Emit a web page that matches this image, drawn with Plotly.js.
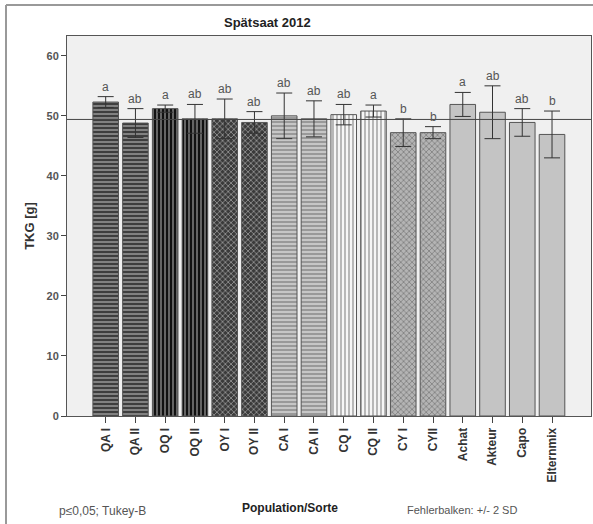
<!DOCTYPE html>
<html>
<head>
<meta charset="utf-8">
<script src="https://cdn.plot.ly/plotly-3.0.1.min.js"></script>
<style>html,body{margin:0;padding:0;background:#fff;}#chart{width:593px;height:524px;}</style>
</head>
<body>
<div id="chart"></div>
<script>
const categories = ["QA I","QA II","OQ I","OQ II","OY I","OY II","CA I","CA II","CQ I","CQ II","CY I","CYII","Achat","Akteur","Capo","Elternmix"];
const means = [52.3, 48.8, 51.2, 49.5, 49.5, 48.9, 50.0, 49.5, 50.2, 50.8, 47.2, 47.2, 51.9, 50.6, 48.9, 46.9];
const errors2SD = [0.9, 2.4, 0.6, 2.4, 3.3, 1.8, 3.8, 3.0, 1.7, 1.0, 2.3, 1.0, 2.0, 4.4, 2.3, 3.9];
const letters = ["a","ab","a","ab","ab","ab","ab","ab","ab","a","b","b","a","ab","ab","b"];
const referenceLine = 49.4;
const yTicks = [0, 10, 20, 30, 40, 50, 60];

const bgColors = ["#3e3e3e","#3e3e3e","#111111","#111111","#3a3a3a","#3a3a3a","#c6c6c6","#c6c6c6","#f6f6f6","#f6f6f6","#b4b4b4","#b4b4b4","#c4c4c4","#c4c4c4","#c4c4c4","#c4c4c4"];
const patShapes = ["-","-","|","|","x","x","-","-","|","|","x","x","","","",""];
const patFg = ["#8a8a8a","#8a8a8a","#4a4a4a","#4a4a4a","#6e6e6e","#6e6e6e","#f2f2f2","#f2f2f2","#c8c8c8","#c8c8c8","#8c8c8c","#8c8c8c","#c4c4c4","#c4c4c4","#c4c4c4","#c4c4c4"];

const idx = categories.map((c, i) => i);
const FONT = 'Liberation Sans, Arial, sans-serif';

const trace = {
  type: 'bar',
  x: idx,
  y: means,
  width: 0.86,
  marker: {
    color: bgColors,
    line: {color: '#555555', width: 1},
    pattern: {shape: patShapes, fgcolor: patFg, bgcolor: bgColors, size: 4, solidity: 0.35, fillmode: 'overlay'}
  },
  error_y: {type: 'data', array: errors2SD, visible: true, color: '#333333', thickness: 1, width: 8},
  hoverinfo: 'none'
};

const annotations = idx.map(i => ({
  x: i, y: means[i] + errors2SD[i], xref: 'x', yref: 'y',
  text: letters[i], showarrow: false, yanchor: 'bottom', yshift: 1,
  font: {family: FONT, size: 12, color: '#555555'}
}));

annotations.push(
  {xref: 'paper', yref: 'paper', x: (267 - 67) / 524, y: (416 - 22) / 380, xanchor: 'center', yanchor: 'middle', showarrow: false,
   text: 'Spätsaat 2012', font: {family: FONT, size: 13, color: '#222222', weight: 'bold'}},
  {xref: 'paper', yref: 'paper', x: (290 - 67) / 524, y: -(508 - 416) / 380, xanchor: 'center', yanchor: 'middle', showarrow: false,
   text: 'Population/Sorte', font: {family: FONT, size: 12, color: '#222222', weight: 'bold'}},
  {xref: 'paper', yref: 'paper', x: (57 - 67) / 524, y: -(511 - 416) / 380, xanchor: 'left', yanchor: 'middle', showarrow: false,
   text: 'p≤0,05; Tukey-B', font: {family: FONT, size: 12, color: '#555555'}},
  {xref: 'paper', yref: 'paper', x: (405 - 67) / 524, y: -(510 - 416) / 380, xanchor: 'left', yanchor: 'middle', showarrow: false,
   text: 'Fehlerbalken: +/- 2 SD', font: {family: FONT, size: 11, color: '#555555'}}
);

const layout = {
  width: 593, height: 524,
  margin: {l: 67, r: 2, t: 36, b: 108, pad: 0},
  paper_bgcolor: '#ffffff',
  plot_bgcolor: '#f0f0f0',
  showlegend: false,
  font: {family: FONT, color: '#444444'},
  xaxis: {
    range: [-1.3, 16.31],
    tickmode: 'array', tickvals: idx, ticktext: categories,
    tickangle: -90, ticks: 'outside', ticklen: 6, tickcolor: '#444444',
    tickfont: {size: 12, color: '#333333', weight: 'bold'},
    showgrid: false, zeroline: false,
    showline: true, linecolor: '#555555', linewidth: 1, mirror: true,
    fixedrange: true
  },
  yaxis: {
    range: [0, 63.3],
    tickmode: 'array', tickvals: yTicks,
    ticks: 'outside', ticklen: 5, tickcolor: '#444444',
    tickfont: {size: 11, color: '#555555', weight: 'bold'},
    showgrid: false, zeroline: false,
    showline: true, linecolor: '#555555', linewidth: 1, mirror: true,
    title: {text: 'TKG [g]', font: {size: 13, color: '#333333', weight: 'bold'}, standoff: 8},
    fixedrange: true
  },
  shapes: [
    {type: 'line', xref: 'paper', yref: 'y', x0: 0, x1: 1, y0: referenceLine, y1: referenceLine,
     line: {color: '#444444', width: 1}, layer: 'above'},
    {type: 'line', xref: 'paper', yref: 'paper', x0: (6 - 67) / 524, x1: (6 - 67) / 524, y0: (416 - 5) / 380, y1: (416 - 530) / 380,
     line: {color: '#999999', width: 2}},
    {type: 'line', xref: 'paper', yref: 'paper', x0: (6 - 67) / 524, x1: (600 - 67) / 524, y0: (416 - 5) / 380, y1: (416 - 5) / 380,
     line: {color: '#999999', width: 2}}
  ],
  annotations: annotations
};

Plotly.newPlot('chart', [trace], layout, {displayModeBar: false, staticPlot: true});
</script>
</body>
</html>
